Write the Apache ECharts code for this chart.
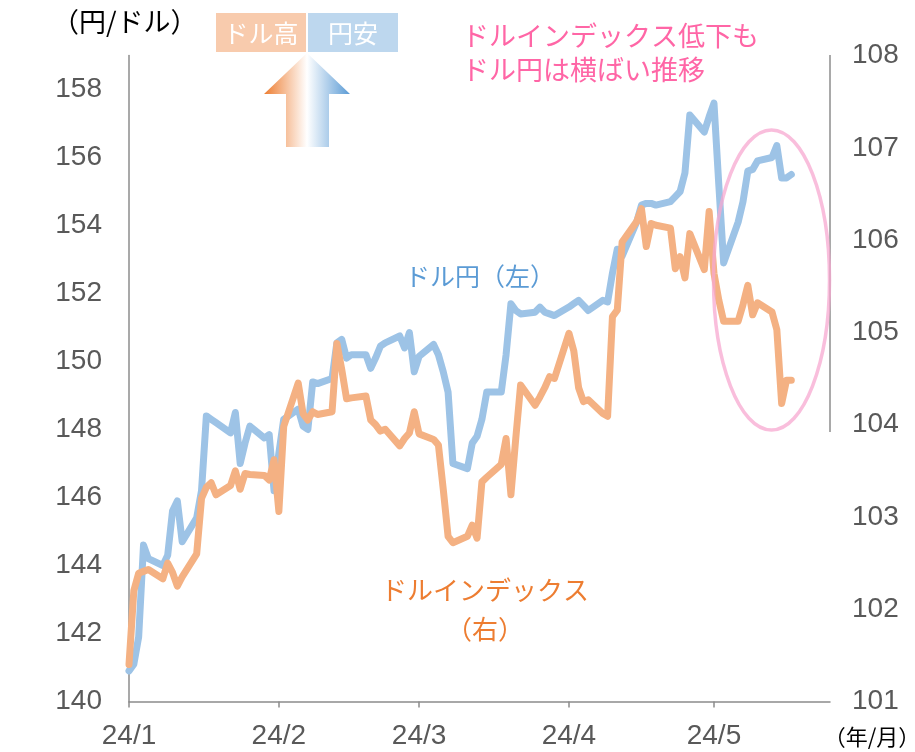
<!DOCTYPE html>
<html>
<head>
<meta charset="utf-8">
<script src="https://cdn.jsdelivr.net/npm/echarts@6/dist/echarts.min.js"></script>
<style>
  html, body { margin: 0; padding: 0; background: #fff; }
  #chart { width: 915px; height: 752px; }
</style>
</head>
<body>
<div id="chart"></div>
<script>
// 営業日（2024/1/1〜5/17）
const dates = [
  '2024-01-01','2024-01-02','2024-01-03','2024-01-04','2024-01-05','2024-01-08','2024-01-09','2024-01-10','2024-01-11','2024-01-12',
  '2024-01-15','2024-01-16','2024-01-17','2024-01-18','2024-01-19','2024-01-22','2024-01-23','2024-01-24','2024-01-25','2024-01-26',
  '2024-01-29','2024-01-30','2024-01-31',
  '2024-02-01','2024-02-02','2024-02-05','2024-02-06','2024-02-07','2024-02-08','2024-02-09','2024-02-12','2024-02-13','2024-02-14',
  '2024-02-15','2024-02-16','2024-02-19','2024-02-20','2024-02-21','2024-02-22','2024-02-23','2024-02-26','2024-02-27','2024-02-28',
  '2024-02-29',
  '2024-03-01','2024-03-04','2024-03-05','2024-03-06','2024-03-07','2024-03-08','2024-03-11','2024-03-12','2024-03-13','2024-03-14',
  '2024-03-15','2024-03-18','2024-03-19','2024-03-20','2024-03-21','2024-03-22','2024-03-25','2024-03-26','2024-03-27','2024-03-28',
  '2024-03-29',
  '2024-04-01','2024-04-02','2024-04-03','2024-04-04','2024-04-05','2024-04-08','2024-04-09','2024-04-10','2024-04-11','2024-04-12',
  '2024-04-15','2024-04-16','2024-04-17','2024-04-18','2024-04-19','2024-04-22','2024-04-23','2024-04-24','2024-04-25','2024-04-26',
  '2024-04-29','2024-04-30',
  '2024-05-01','2024-05-02','2024-05-03','2024-05-06','2024-05-07','2024-05-08','2024-05-09','2024-05-10','2024-05-13','2024-05-14',
  '2024-05-15','2024-05-16','2024-05-17'
];

// ドル円（左軸）
const usdJpy = [
  140.9, 141.1, 141.9, 144.6, 144.2, 144.0, 144.3, 145.6, 145.9, 144.7,
  145.4, 146.2, 148.4, 148.3, 148.2, 147.9, 148.5, 147.0, 147.6, 148.1,
  147.75, 147.85, 146.2,
  147.3, 148.3, 148.6, 148.1, 148.0, 149.4, 149.35, 149.5, 150.55, 150.65,
  150.1, 150.2, 150.2, 149.8, 150.1, 150.45, 150.55, 150.75, 150.4, 150.85,
  149.7,
  150.15, 150.5, 150.2, 149.7, 149.1, 147.0, 146.85, 147.6, 147.8, 148.3,
  149.1, 149.1, 150.2, 151.7, 151.5, 151.4, 151.45, 151.6, 151.45, 151.4,
  151.35,
  151.6, 151.7, 151.8, 151.65, 151.5, 151.8, 151.75, 152.6, 153.3, 153.1,
  154.1, 154.6, 154.65, 154.65, 154.6, 154.7, 154.85, 155.0, 155.55, 157.25,
  156.75, 157.2,
  157.6, 155.2, 152.9, 154.1, 154.7, 155.6, 155.65, 155.9, 156.0, 156.35,
  155.4, 155.4, 155.5
];

// ドルインデックス（右軸）
const dollarIndex = [
  101.4, 102.2, 102.39, 102.41, 102.43, 102.33, 102.5, 102.4, 102.25, 102.35,
  102.6, 103.2, 103.32, 103.37, 103.24, 103.34, 103.5, 103.3, 103.47, 103.46,
  103.45, 103.4, 103.62,
  103.06, 103.98, 104.45, 104.12, 104.05, 104.14, 104.11, 104.14, 104.88, 104.6,
  104.28, 104.29, 104.31, 104.05, 104.0, 103.93, 103.95, 103.77, 103.85, 103.91,
  104.14,
  103.9, 103.84, 103.78, 103.3, 102.79, 102.72, 102.79, 102.91, 102.77, 103.38,
  103.43, 103.57, 103.85, 103.24, 103.85, 104.43, 104.21, 104.3, 104.4, 104.52,
  104.5,
  104.99, 104.8, 104.4, 104.25, 104.27, 104.12, 104.09, 105.17, 105.24, 105.98,
  106.2, 106.34, 105.93, 106.18, 106.16, 106.13, 105.69, 105.82, 105.59, 106.07,
  105.68, 106.31,
  105.64, 105.35, 105.12, 105.12, 105.3, 105.51, 105.19, 105.32, 105.22, 105.03,
  104.23, 104.48, 104.48
];

const monthTicks = ['2024-01-01', '2024-02-01', '2024-03-01', '2024-04-01', '2024-05-01'];
const xStart = '2024-01-01';
const xEnd = '2024-05-25';

// 日付 → 1/1 からの経過日数
const dayOf = s => {
  const p = s.split('-');
  return Math.round((Date.UTC(+p[0], +p[1] - 1, +p[2]) - Date.UTC(2024, 0, 1)) / 86400000);
};
const dayLabel = v => '24/' + (new Date(Date.UTC(2024, 0, 1) + v * 86400000).getUTCMonth() + 1);

const numFont = "'Liberation Sans Narrow', 'Liberation Sans', Arial, sans-serif";
const jpFont = "'Noto Sans CJK JP', sans-serif";
const axisGray = '#8c8c8c';
const labelGray = '#595959';

const chart = echarts.init(document.getElementById('chart'));

chart.setOption({
  animation: false,
  grid: { left: 129, right: 85, top: 55.5, bottom: 50.5 },
  xAxis: {
    type: 'value',
    min: dayOf(xStart),
    max: dayOf(xEnd),
    axisLine: { show: true, lineStyle: { color: axisGray, width: 1.5 } },
    axisTick: {
      show: true, length: 6, inside: false,
      customValues: monthTicks.map(dayOf),
      lineStyle: { color: axisGray, width: 1.5 }
    },
    axisLabel: {
      customValues: monthTicks.map(dayOf),
      formatter: dayLabel,
      color: labelGray, fontSize: 28, fontFamily: numFont, margin: 21
    },
    splitLine: { show: false }
  },
  yAxis: [
    {
      type: 'value', min: 140, max: 159, interval: 2,
      axisLine: { show: true, lineStyle: { color: axisGray, width: 1.5 } },
      axisTick: { show: false },
      axisLabel: { color: labelGray, fontSize: 28, fontFamily: numFont, margin: 27, showMaxLabel: false },
      splitLine: { show: false }
    },
    {
      type: 'value', min: 101, max: 108, interval: 1, position: 'right',
      axisLine: { show: false },
      axisTick: { show: false },
      axisLabel: { color: labelGray, fontSize: 28, fontFamily: numFont, margin: 22 },
      splitLine: { show: false }
    }
  ],
  series: [
    {
      name: 'ドル円', type: 'line', yAxisIndex: 0,
      data: dates.map((d, i) => [dayOf(d), usdJpy[i]]),
      showSymbol: false, smooth: false,
      lineStyle: { color: '#9dc3e6', width: 7, cap: 'round', join: 'round' }
    },
    {
      name: 'ドルインデックス', type: 'line', yAxisIndex: 1,
      data: dates.map((d, i) => [dayOf(d), dollarIndex[i]]),
      showSymbol: false, smooth: false,
      lineStyle: { color: '#f4b183', width: 7, cap: 'round', join: 'round' }
    }
  ],
  graphic: [
    // 右軸の線
    { type: 'line', z: 5, shape: { x1: 830, y1: 55, x2: 830, y2: 432 }, style: { stroke: axisGray, lineWidth: 1.5 } },
    // 単位
    { type: 'text', x: 52, y: 22, style: { text: '（円/ドル）', fill: '#000', font: '27px ' + jpFont, textVerticalAlign: 'middle' } },
    { type: 'text', x: 872, y: 737, style: { text: '（年/月）', fill: '#000', font: '22px ' + jpFont, textAlign: 'center', textVerticalAlign: 'middle' } },
    // ドル高・円安ボックス
    { type: 'rect', shape: { x: 216, y: 13, width: 90, height: 39 }, style: { fill: '#f8cbad' } },
    { type: 'rect', shape: { x: 308, y: 13, width: 90, height: 39 }, style: { fill: '#bdd7ee' } },
    { type: 'text', x: 261, y: 33, style: { text: 'ドル高', fill: '#fff', font: '25px ' + jpFont, textAlign: 'center', textVerticalAlign: 'middle' } },
    { type: 'text', x: 353, y: 33, style: { text: '円安', fill: '#fff', font: '25px ' + jpFont, textAlign: 'center', textVerticalAlign: 'middle' } },
    // 上向き矢印
    {
      type: 'polygon',
      shape: { points: [[307, 53], [350, 94], [329, 94], [329, 147], [286, 147], [286, 94], [264, 94]] },
      style: {
        fill: new echarts.graphic.LinearGradient(0, 0, 1, 0, [
          { offset: 0, color: '#ed7d31' },
          { offset: 0.5, color: '#ffffff' },
          { offset: 1, color: '#5b9bd5' }
        ])
      }
    },
    // 注記
    { type: 'text', x: 462, y: 36, style: { text: 'ドルインデックス低下も', fill: '#ff66a6', font: '27px ' + jpFont, textVerticalAlign: 'middle' } },
    { type: 'text', x: 462, y: 70, style: { text: 'ドル円は横ばい推移', fill: '#ff66a6', font: '27px ' + jpFont, textVerticalAlign: 'middle' } },
    { type: 'ellipse', z: 10, shape: { cx: 771.5, cy: 280, rx: 58, ry: 150 }, style: { fill: 'none', stroke: '#f7a8d0', lineWidth: 3.5, opacity: 0.75 } },
    // 系列ラベル
    { type: 'text', x: 480, y: 276, style: { text: 'ドル円（左）', fill: '#5b9bd5', font: '25px ' + jpFont, textAlign: 'center', textVerticalAlign: 'middle' } },
    { type: 'text', x: 485, y: 590, style: { text: 'ドルインデックス', fill: '#ed7d31', font: '26px ' + jpFont, textAlign: 'center', textVerticalAlign: 'middle' } },
    { type: 'text', x: 485, y: 629, style: { text: '（右）', fill: '#ed7d31', font: '26px ' + jpFont, textAlign: 'center', textVerticalAlign: 'middle' } }
  ]
});
</script>
</body>
</html>
